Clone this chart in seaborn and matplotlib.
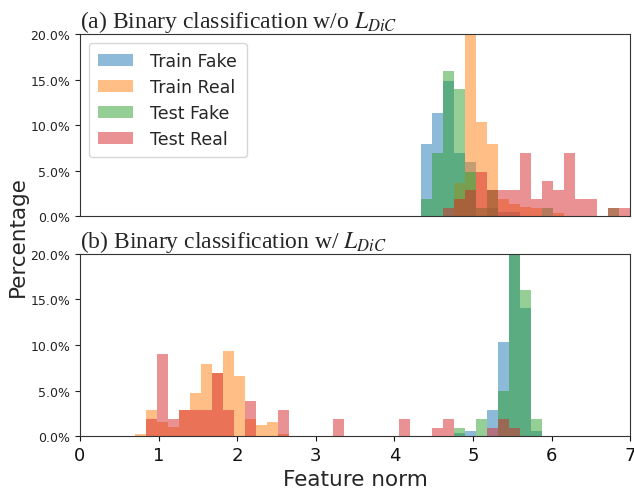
import numpy as np
import pandas as pd
import matplotlib
matplotlib.use("Agg")
import matplotlib.pyplot as plt
import seaborn as sns
from matplotlib.ticker import PercentFormatter

# ---- data: percentage per bin (50 bins over [0, 7], width 0.14) ----
N_BINS = 50
X_RANGE = (0.0, 7.0)
series_names = ["Train Fake", "Train Real", "Test Fake", "Test Real"]

# panel (a): first bin index, then per-bin percentages
a_train_fake_start = 31
a_train_fake = [7.9, 11.3, 14.9, 6.9, 5.9, 0.0, 0.9, 0.5, 0.5]
a_train_real_start = 34
a_train_real = [3.6, 25.0, 10.3, 7.9, 1.9, 1.3, 1.0, 0.9, 0.0, 0.3]
a_test_fake_start = 31
a_test_fake = [1.9, 6.9, 16.0, 14.0, 4.9, 0.9, 2.9, 0.0, 0.0, 0.0, 0.0, 0.9,
               0.0, 0.0, 0.0, 0.0, 0.0, 0.9]
a_test_real_start = 33
a_test_real = [0.9, 1.9, 2.9, 4.9, 2.9, 2.9, 2.9, 6.9, 1.9, 3.9, 2.9, 6.9,
               1.9, 1.9, 0.0, 0.9, 0.9]

# panel (b)
b_train_fake_start = 34
b_train_fake = [0.3, 0.6, 0.0, 2.9, 10.3, 22.0, 14.0, 0.6]
b_train_real_start = 5
b_train_real = [0.2, 2.9, 1.6, 1.0, 2.9, 4.7, 7.9, 6.9, 9.3, 6.6, 1.9, 1.25,
                1.6, 0.2]
b_test_fake_start = 34
b_test_fake = [0.9, 0.0, 1.9, 0.0, 5.0, 25.0, 16.0, 1.9]
b_test_real_start = 6
b_test_real = [1.9, 9.0, 1.9, 2.9, 2.9, 2.9, 6.9, 2.9, 0.0, 3.9, 0.0, 0.0,
               2.9, 0.0, 0.0, 0.0, 0.0, 1.9, 0.0, 0.0, 0.0, 0.0, 0.0, 1.9,
               0.0, 0.0, 0.9, 1.9, 0.0, 0.0, 0.0, 0.9, 1.9, 0.9]

titles = [r"(a) Binary classification w/o $L_{DiC}$",
          r"(b) Binary classification w/ $L_{DiC}$"]
x_ticks = [0, 1, 2, 3, 4, 5, 6, 7]
y_ticks = [0, 5, 10, 15, 20]

edges = np.linspace(X_RANGE[0], X_RANGE[1], N_BINS + 1)
centers = (edges[:-1] + edges[1:]) / 2
bin_w = (X_RANGE[1] - X_RANGE[0]) / N_BINS


def make_frame(parts):
    rows = []
    for name, start, vals in parts:
        for i, v in enumerate(vals):
            if v > 0:
                rows.append({"series": name, "x": centers[start + i], "pct": v})
    return pd.DataFrame(rows)


df_a = make_frame([
    ("Train Fake", a_train_fake_start, a_train_fake),
    ("Train Real", a_train_real_start, a_train_real),
    ("Test Fake", a_test_fake_start, a_test_fake),
    ("Test Real", a_test_real_start, a_test_real),
])
df_b = make_frame([
    ("Train Fake", b_train_fake_start, b_train_fake),
    ("Train Real", b_train_real_start, b_train_real),
    ("Test Fake", b_test_fake_start, b_test_fake),
    ("Test Real", b_test_real_start, b_test_real),
])

sns.set_style("ticks")
plt.rcParams["mathtext.fontset"] = "stix"
palette = dict(zip(series_names, sns.color_palette("tab10", 4)))

fig = plt.figure(figsize=(6.34, 4.89), dpi=100)
ax1 = fig.add_axes([0.126, 0.556, 0.868, 0.372])
ax2 = fig.add_axes([0.126, 0.106, 0.868, 0.373], sharex=ax1)

for ax, df, title in [(ax1, df_a, titles[0]), (ax2, df_b, titles[1])]:
    for name in series_names:
        sub = df[df["series"] == name].reset_index(drop=True)
        sns.histplot(data=sub, x="x", weights="pct", binwidth=bin_w,
                     binrange=X_RANGE, ax=ax, stat="count",
                     color=palette[name], alpha=0.5, linewidth=0,
                     element="bars", label=name)
    ax.set_xlim(0, 7)
    ax.set_ylim(0, 20)
    ax.set_yticks(y_ticks)
    ax.yaxis.set_major_formatter(PercentFormatter(decimals=1))
    ax.tick_params(axis="y", labelsize=9, colors="#222222")
    ax.set_ylabel("")
    ax.set_xlabel("")
    ax.set_title(title, loc="left", fontsize=17, family="Liberation Serif",
                 pad=5)
    for s in ax.spines.values():
        s.set_visible(True)
        s.set_color("#333333")

ax1.tick_params(axis="x", labelbottom=False, length=0)
ax2.set_xticks(x_ticks)
ax2.tick_params(axis="x", labelsize=13, colors="#111111")
ax2.set_xlabel("Feature norm", fontsize=15.5)
ax1.legend(loc="upper left", fontsize=12.5, handlelength=2.0,
           borderpad=0.55, labelspacing=0.45, handletextpad=1.0)
fig.text(0.028, 0.517, "Percentage", rotation=90, fontsize=15.5,
         ha="center", va="center")

fig.savefig("out.png", dpi=100)
